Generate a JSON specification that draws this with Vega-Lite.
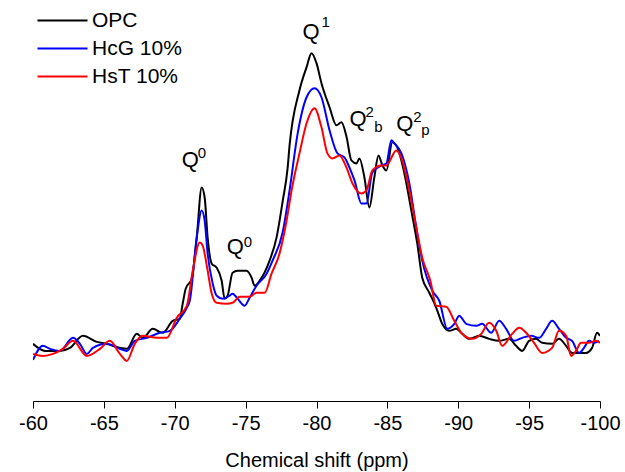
{
  "$schema": "https://vega.github.io/schema/vega-lite/v6.json",
  "width": 567,
  "height": 401,
  "autosize": {"type": "none"},
  "padding": {"left": 33, "top": 0, "right": 25, "bottom": 71},
  "background": "white",
  "config": {"view": {"stroke": null}, "font": "Liberation Sans"},
  "datasets": {
    "spectra": [
      {"sample":"OPC","ppm":-60.00,"intensity":57},{"sample":"OPC","ppm":-60.85,"intensity":50},{"sample":"OPC","ppm":-61.90,"intensity":50},{"sample":"OPC","ppm":-62.61,"intensity":53},{"sample":"OPC","ppm":-63.52,"intensity":65},{"sample":"OPC","ppm":-64.51,"intensity":59},{"sample":"OPC","ppm":-65.21,"intensity":57},{"sample":"OPC","ppm":-66.13,"intensity":53},{"sample":"OPC","ppm":-66.62,"intensity":52},{"sample":"OPC","ppm":-67.32,"intensity":67},{"sample":"OPC","ppm":-67.75,"intensity":63},{"sample":"OPC","ppm":-68.45,"intensity":72},{"sample":"OPC","ppm":-69.15,"intensity":68},{"sample":"OPC","ppm":-69.86,"intensity":80},{"sample":"OPC","ppm":-70.35,"intensity":82},{"sample":"OPC","ppm":-70.56,"intensity":97},{"sample":"OPC","ppm":-70.77,"intensity":112},{"sample":"OPC","ppm":-71.20,"intensity":122},{"sample":"OPC","ppm":-71.55,"intensity":163},{"sample":"OPC","ppm":-71.90,"intensity":213},{"sample":"OPC","ppm":-72.11,"intensity":203},{"sample":"OPC","ppm":-72.32,"intensity":163},{"sample":"OPC","ppm":-72.61,"intensity":137},{"sample":"OPC","ppm":-72.96,"intensity":133},{"sample":"OPC","ppm":-73.31,"intensity":120},{"sample":"OPC","ppm":-73.52,"intensity":102},{"sample":"OPC","ppm":-73.73,"intensity":105},{"sample":"OPC","ppm":-74.08,"intensity":128},{"sample":"OPC","ppm":-74.44,"intensity":130},{"sample":"OPC","ppm":-75.07,"intensity":130},{"sample":"OPC","ppm":-75.42,"intensity":123},{"sample":"OPC","ppm":-75.63,"intensity":115},{"sample":"OPC","ppm":-75.99,"intensity":120},{"sample":"OPC","ppm":-76.69,"intensity":140},{"sample":"OPC","ppm":-77.18,"intensity":163},{"sample":"OPC","ppm":-77.61,"intensity":199},{"sample":"OPC","ppm":-77.96,"intensity":232},{"sample":"OPC","ppm":-78.10,"intensity":255},{"sample":"OPC","ppm":-78.80,"intensity":310},{"sample":"OPC","ppm":-79.30,"intensity":333},{"sample":"OPC","ppm":-79.65,"intensity":347},{"sample":"OPC","ppm":-80.00,"intensity":337},{"sample":"OPC","ppm":-80.35,"intensity":317},{"sample":"OPC","ppm":-80.92,"intensity":293},{"sample":"OPC","ppm":-81.41,"intensity":275},{"sample":"OPC","ppm":-81.76,"intensity":278},{"sample":"OPC","ppm":-82.11,"intensity":264},{"sample":"OPC","ppm":-82.46,"intensity":240},{"sample":"OPC","ppm":-82.82,"intensity":237},{"sample":"OPC","ppm":-83.03,"intensity":242},{"sample":"OPC","ppm":-83.38,"intensity":223},{"sample":"OPC","ppm":-83.73,"intensity":193},{"sample":"OPC","ppm":-84.08,"intensity":223},{"sample":"OPC","ppm":-84.37,"intensity":245},{"sample":"OPC","ppm":-84.65,"intensity":235},{"sample":"OPC","ppm":-84.93,"intensity":230},{"sample":"OPC","ppm":-85.35,"intensity":258},{"sample":"OPC","ppm":-85.70,"intensity":253},{"sample":"OPC","ppm":-86.20,"intensity":227},{"sample":"OPC","ppm":-86.69,"intensity":190},{"sample":"OPC","ppm":-87.11,"intensity":157},{"sample":"OPC","ppm":-87.46,"intensity":123},{"sample":"OPC","ppm":-87.96,"intensity":108},{"sample":"OPC","ppm":-88.45,"intensity":93},{"sample":"OPC","ppm":-88.87,"intensity":77},{"sample":"OPC","ppm":-89.37,"intensity":70},{"sample":"OPC","ppm":-89.86,"intensity":72},{"sample":"OPC","ppm":-90.28,"intensity":67},{"sample":"OPC","ppm":-90.77,"intensity":62},{"sample":"OPC","ppm":-91.48,"intensity":65},{"sample":"OPC","ppm":-92.18,"intensity":62},{"sample":"OPC","ppm":-92.89,"intensity":60},{"sample":"OPC","ppm":-93.59,"intensity":62},{"sample":"OPC","ppm":-94.08,"intensity":55},{"sample":"OPC","ppm":-94.51,"intensity":50},{"sample":"OPC","ppm":-95.00,"intensity":60},{"sample":"OPC","ppm":-95.49,"intensity":62},{"sample":"OPC","ppm":-95.92,"intensity":58},{"sample":"OPC","ppm":-96.62,"intensity":57},{"sample":"OPC","ppm":-97.11,"intensity":62},{"sample":"OPC","ppm":-97.61,"intensity":55},{"sample":"OPC","ppm":-98.03,"intensity":48},{"sample":"OPC","ppm":-98.66,"intensity":48},{"sample":"OPC","ppm":-99.01,"intensity":48},{"sample":"OPC","ppm":-99.44,"intensity":53},{"sample":"OPC","ppm":-99.79,"intensity":68},{"sample":"OPC","ppm":-100.00,"intensity":65},

      {"sample":"HcG 10%","ppm":-60.00,"intensity":41},{"sample":"HcG 10%","ppm":-60.70,"intensity":55},{"sample":"HcG 10%","ppm":-61.20,"intensity":52},{"sample":"HcG 10%","ppm":-61.90,"intensity":50},{"sample":"HcG 10%","ppm":-62.82,"intensity":63},{"sample":"HcG 10%","ppm":-63.31,"intensity":57},{"sample":"HcG 10%","ppm":-63.80,"intensity":47},{"sample":"HcG 10%","ppm":-64.23,"intensity":53},{"sample":"HcG 10%","ppm":-65.21,"intensity":57},{"sample":"HcG 10%","ppm":-66.13,"intensity":52},{"sample":"HcG 10%","ppm":-66.62,"intensity":50},{"sample":"HcG 10%","ppm":-67.18,"intensity":60},{"sample":"HcG 10%","ppm":-68.03,"intensity":63},{"sample":"HcG 10%","ppm":-68.94,"intensity":68},{"sample":"HcG 10%","ppm":-69.65,"intensity":70},{"sample":"HcG 10%","ppm":-70.35,"intensity":82},{"sample":"HcG 10%","ppm":-70.85,"intensity":93},{"sample":"HcG 10%","ppm":-71.06,"intensity":100},{"sample":"HcG 10%","ppm":-71.55,"intensity":163},{"sample":"HcG 10%","ppm":-71.90,"intensity":190},{"sample":"HcG 10%","ppm":-72.11,"intensity":180},{"sample":"HcG 10%","ppm":-72.32,"intensity":147},{"sample":"HcG 10%","ppm":-72.68,"intensity":117},{"sample":"HcG 10%","ppm":-72.96,"intensity":105},{"sample":"HcG 10%","ppm":-73.38,"intensity":102},{"sample":"HcG 10%","ppm":-73.87,"intensity":105},{"sample":"HcG 10%","ppm":-74.08,"intensity":107},{"sample":"HcG 10%","ppm":-74.44,"intensity":102},{"sample":"HcG 10%","ppm":-74.93,"intensity":95},{"sample":"HcG 10%","ppm":-75.28,"intensity":103},{"sample":"HcG 10%","ppm":-75.77,"intensity":115},{"sample":"HcG 10%","ppm":-76.48,"intensity":127},{"sample":"HcG 10%","ppm":-76.90,"intensity":140},{"sample":"HcG 10%","ppm":-77.61,"intensity":168},{"sample":"HcG 10%","ppm":-78.10,"intensity":210},{"sample":"HcG 10%","ppm":-78.66,"intensity":266},{"sample":"HcG 10%","ppm":-79.30,"intensity":303},{"sample":"HcG 10%","ppm":-79.86,"intensity":312},{"sample":"HcG 10%","ppm":-80.35,"intensity":303},{"sample":"HcG 10%","ppm":-80.92,"intensity":270},{"sample":"HcG 10%","ppm":-81.48,"intensity":247},{"sample":"HcG 10%","ppm":-81.97,"intensity":243},{"sample":"HcG 10%","ppm":-82.32,"intensity":233},{"sample":"HcG 10%","ppm":-82.68,"intensity":220},{"sample":"HcG 10%","ppm":-83.17,"intensity":197},{"sample":"HcG 10%","ppm":-83.52,"intensity":197},{"sample":"HcG 10%","ppm":-83.94,"intensity":228},{"sample":"HcG 10%","ppm":-84.58,"intensity":235},{"sample":"HcG 10%","ppm":-84.93,"intensity":237},{"sample":"HcG 10%","ppm":-85.28,"intensity":260},{"sample":"HcG 10%","ppm":-85.49,"intensity":257},{"sample":"HcG 10%","ppm":-85.99,"intensity":247},{"sample":"HcG 10%","ppm":-86.55,"intensity":217},{"sample":"HcG 10%","ppm":-87.04,"intensity":173},{"sample":"HcG 10%","ppm":-87.46,"intensity":140},{"sample":"HcG 10%","ppm":-88.17,"intensity":110},{"sample":"HcG 10%","ppm":-88.66,"intensity":100},{"sample":"HcG 10%","ppm":-89.23,"intensity":72},{"sample":"HcG 10%","ppm":-89.72,"intensity":77},{"sample":"HcG 10%","ppm":-90.07,"intensity":85},{"sample":"HcG 10%","ppm":-90.56,"intensity":77},{"sample":"HcG 10%","ppm":-91.27,"intensity":75},{"sample":"HcG 10%","ppm":-91.69,"intensity":77},{"sample":"HcG 10%","ppm":-92.32,"intensity":68},{"sample":"HcG 10%","ppm":-92.89,"intensity":80},{"sample":"HcG 10%","ppm":-93.38,"intensity":72},{"sample":"HcG 10%","ppm":-93.94,"intensity":60},{"sample":"HcG 10%","ppm":-94.51,"intensity":63},{"sample":"HcG 10%","ppm":-95.14,"intensity":65},{"sample":"HcG 10%","ppm":-95.70,"intensity":63},{"sample":"HcG 10%","ppm":-96.20,"intensity":72},{"sample":"HcG 10%","ppm":-96.62,"intensity":80},{"sample":"HcG 10%","ppm":-97.11,"intensity":72},{"sample":"HcG 10%","ppm":-97.61,"intensity":63},{"sample":"HcG 10%","ppm":-98.03,"intensity":60},{"sample":"HcG 10%","ppm":-98.52,"intensity":48},{"sample":"HcG 10%","ppm":-98.87,"intensity":53},{"sample":"HcG 10%","ppm":-99.23,"intensity":60},{"sample":"HcG 10%","ppm":-99.58,"intensity":58},{"sample":"HcG 10%","ppm":-99.93,"intensity":60},

      {"sample":"HsT 10%","ppm":-60.00,"intensity":47},{"sample":"HsT 10%","ppm":-60.70,"intensity":45},{"sample":"HsT 10%","ppm":-61.41,"intensity":47},{"sample":"HsT 10%","ppm":-62.11,"intensity":52},{"sample":"HsT 10%","ppm":-62.82,"intensity":60},{"sample":"HsT 10%","ppm":-63.80,"intensity":45},{"sample":"HsT 10%","ppm":-64.72,"intensity":52},{"sample":"HsT 10%","ppm":-65.42,"intensity":60},{"sample":"HsT 10%","ppm":-66.13,"intensity":47},{"sample":"HsT 10%","ppm":-66.62,"intensity":40},{"sample":"HsT 10%","ppm":-67.18,"intensity":57},{"sample":"HsT 10%","ppm":-67.75,"intensity":65},{"sample":"HsT 10%","ppm":-68.73,"intensity":63},{"sample":"HsT 10%","ppm":-69.44,"intensity":63},{"sample":"HsT 10%","ppm":-70.14,"intensity":83},{"sample":"HsT 10%","ppm":-70.85,"intensity":95},{"sample":"HsT 10%","ppm":-71.27,"intensity":130},{"sample":"HsT 10%","ppm":-71.76,"intensity":158},{"sample":"HsT 10%","ppm":-71.97,"intensity":155},{"sample":"HsT 10%","ppm":-72.32,"intensity":130},{"sample":"HsT 10%","ppm":-72.61,"intensity":107},{"sample":"HsT 10%","ppm":-72.96,"intensity":98},{"sample":"HsT 10%","ppm":-73.66,"intensity":97},{"sample":"HsT 10%","ppm":-74.08,"intensity":98},{"sample":"HsT 10%","ppm":-74.58,"intensity":104},{"sample":"HsT 10%","ppm":-75.28,"intensity":104},{"sample":"HsT 10%","ppm":-75.77,"intensity":108},{"sample":"HsT 10%","ppm":-76.34,"intensity":108},{"sample":"HsT 10%","ppm":-76.83,"intensity":127},{"sample":"HsT 10%","ppm":-77.39,"intensity":147},{"sample":"HsT 10%","ppm":-77.89,"intensity":180},{"sample":"HsT 10%","ppm":-78.24,"intensity":210},{"sample":"HsT 10%","ppm":-78.80,"intensity":247},{"sample":"HsT 10%","ppm":-79.30,"intensity":277},{"sample":"HsT 10%","ppm":-79.86,"intensity":292},{"sample":"HsT 10%","ppm":-80.35,"intensity":273},{"sample":"HsT 10%","ppm":-80.77,"intensity":247},{"sample":"HsT 10%","ppm":-81.13,"intensity":242},{"sample":"HsT 10%","ppm":-81.62,"intensity":245},{"sample":"HsT 10%","ppm":-82.11,"intensity":233},{"sample":"HsT 10%","ppm":-82.54,"intensity":217},{"sample":"HsT 10%","ppm":-83.17,"intensity":207},{"sample":"HsT 10%","ppm":-83.52,"intensity":210},{"sample":"HsT 10%","ppm":-83.94,"intensity":230},{"sample":"HsT 10%","ppm":-84.58,"intensity":235},{"sample":"HsT 10%","ppm":-84.93,"intensity":235},{"sample":"HsT 10%","ppm":-85.63,"intensity":250},{"sample":"HsT 10%","ppm":-85.99,"intensity":242},{"sample":"HsT 10%","ppm":-86.55,"intensity":210},{"sample":"HsT 10%","ppm":-87.04,"intensity":173},{"sample":"HsT 10%","ppm":-87.46,"intensity":143},{"sample":"HsT 10%","ppm":-88.03,"intensity":120},{"sample":"HsT 10%","ppm":-88.45,"intensity":95},{"sample":"HsT 10%","ppm":-89.15,"intensity":94},{"sample":"HsT 10%","ppm":-89.72,"intensity":80},{"sample":"HsT 10%","ppm":-90.28,"intensity":67},{"sample":"HsT 10%","ppm":-90.99,"intensity":62},{"sample":"HsT 10%","ppm":-91.62,"intensity":67},{"sample":"HsT 10%","ppm":-92.18,"intensity":78},{"sample":"HsT 10%","ppm":-92.68,"intensity":70},{"sample":"HsT 10%","ppm":-93.10,"intensity":55},{"sample":"HsT 10%","ppm":-93.80,"intensity":67},{"sample":"HsT 10%","ppm":-94.30,"intensity":73},{"sample":"HsT 10%","ppm":-94.79,"intensity":68},{"sample":"HsT 10%","ppm":-95.35,"intensity":58},{"sample":"HsT 10%","ppm":-95.92,"intensity":48},{"sample":"HsT 10%","ppm":-96.62,"intensity":53},{"sample":"HsT 10%","ppm":-97.11,"intensity":70},{"sample":"HsT 10%","ppm":-97.61,"intensity":65},{"sample":"HsT 10%","ppm":-97.96,"intensity":45},{"sample":"HsT 10%","ppm":-98.31,"intensity":50},{"sample":"HsT 10%","ppm":-98.66,"intensity":58},{"sample":"HsT 10%","ppm":-99.23,"intensity":58},{"sample":"HsT 10%","ppm":-99.72,"intensity":60},{"sample":"HsT 10%","ppm":-100.00,"intensity":58}
    ],
    "bigLabels": [
      {"ppm":-70.49,"intensity":233,"text":"Q"},
      {"ppm":-73.66,"intensity":147,"text":"Q"},
      {"ppm":-79.01,"intensity":361,"text":"Q"},
      {"ppm":-82.32,"intensity":274,"text":"Q"},
      {"ppm":-85.63,"intensity":269,"text":"Q"}
    ],
    "smallLabels": [
      {"ppm":-71.62,"intensity":242,"text":"0"},
      {"ppm":-74.86,"intensity":154,"text":"0"},
      {"ppm":-80.35,"intensity":373,"text":"1"},
      {"ppm":-83.45,"intensity":283,"text":"2"},
      {"ppm":-84.08,"intensity":268,"text":"b"},
      {"ppm":-86.83,"intensity":278,"text":"2"},
      {"ppm":-87.39,"intensity":265,"text":"p"}
    ]
  },
  "layer": [
    {
      "data": {"name": "spectra"},
      "mark": {"type": "line", "interpolate": "monotone", "strokeWidth": 2, "clip": true},
      "encoding": {
        "x": {
          "field": "ppm", "type": "quantitative",
          "scale": {"domain": [-100, -60], "reverse": true, "nice": false, "zero": false},
          "axis": {
            "title": "Chemical shift (ppm)",
            "values": [-60, -62.5, -65, -67.5, -70, -72.5, -75, -77.5, -80, -82.5, -85, -87.5, -90, -92.5, -95, -97.5, -100],
            "labelExpr": "datum.value % 5 === 0 ? '' + datum.value : ''",
            "tickSize": {"condition": {"test": "datum.value % 5 !== 0", "value": 4}, "value": 7},
            "tickColor": "#000000", "tickWidth": 1,
            "domainColor": "#000000", "domainWidth": 1,
            "labelFontSize": 20, "labelColor": "#000000", "labelFont": "Liberation Sans",
            "labelPadding": 5, "labelOverlap": false, "labelBound": false, "labelFlush": false,
            "titleFontSize": 20, "titleFontWeight": "normal", "titleColor": "#000000", "titleFont": "Liberation Sans",
            "titlePadding": 17, "grid": false
          }
        },
        "y": {
          "field": "intensity", "type": "quantitative",
          "scale": {"domain": [0, 400], "nice": false, "zero": false},
          "axis": null
        },
        "color": {
          "field": "sample", "type": "nominal",
          "scale": {"domain": ["OPC", "HcG 10%", "HsT 10%"], "range": ["#000000", "#0000ff", "#ff0000"]},
          "legend": {
            "title": null, "orient": "none", "legendX": 19, "legendY": 10,
            "symbolType": "M-5,0H5", "symbolSize": 100, "symbolStrokeWidth": 2,
            "labelOffset": 19, "labelFontSize": 21, "labelFont": "Liberation Sans", "labelColor": "#000000",
            "rowPadding": 6, "padding": 0
          }
        },
        "order": {"field": "ppm", "type": "quantitative", "sort": "descending"}
      }
    },
    {
      "data": {"name": "bigLabels"},
      "mark": {"type": "text", "align": "left", "baseline": "alphabetic", "fontSize": 22, "font": "Liberation Sans", "color": "#000000"},
      "encoding": {
        "x": {"field": "ppm", "type": "quantitative"},
        "y": {"field": "intensity", "type": "quantitative"},
        "text": {"field": "text"}
      }
    },
    {
      "data": {"name": "smallLabels"},
      "mark": {"type": "text", "align": "left", "baseline": "alphabetic", "fontSize": 15, "font": "Liberation Sans", "color": "#000000"},
      "encoding": {
        "x": {"field": "ppm", "type": "quantitative"},
        "y": {"field": "intensity", "type": "quantitative"},
        "text": {"field": "text"}
      }
    }
  ]
}
